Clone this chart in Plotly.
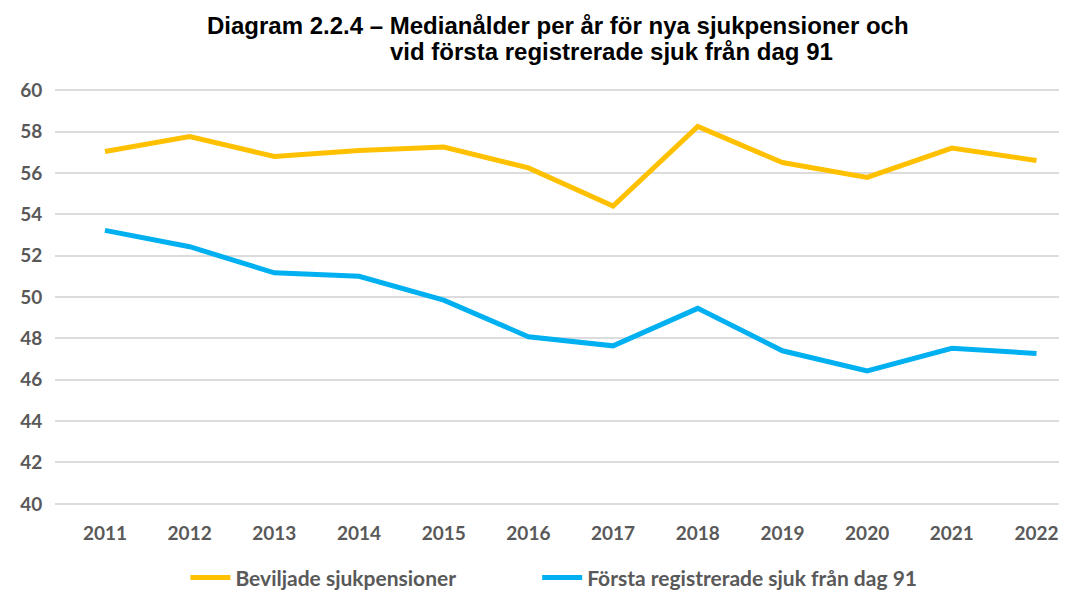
import plotly.graph_objects as go

years = ["2011", "2012", "2013", "2014", "2015", "2016", "2017", "2018", "2019", "2020", "2021", "2022"]
beviljade = [57.03, 57.76, 56.79, 57.08, 57.25, 56.24, 54.4, 58.24, 56.5, 55.78, 57.2, 56.6]
forsta = [53.22, 52.43, 51.17, 51.0, 49.85, 48.08, 47.64, 49.45, 47.4, 46.43, 47.52, 47.27]
series_names = ["Beviljade sjukpensioner", "Första registrerade sjuk från dag 91"]
title_lines = ["Diagram 2.2.4 – Medianålder per år för nya sjukpensioner och",
               "vid första registrerade sjuk från dag 91"]
y_ticks = [40, 42, 44, 46, 48, 50, 52, 54, 56, 58, 60]

legend_pad = "\u00a0" * 15  # spacing between the two legend entries

fig = go.Figure()
fig.add_trace(go.Scatter(x=list(range(len(years))), y=beviljade, mode="lines",
                         name=series_names[0] + legend_pad,
                         line=dict(color="#FFC000", width=5)))
fig.add_trace(go.Scatter(x=list(range(len(years))), y=forsta, mode="lines",
                         name=series_names[1], line=dict(color="#00B0F0", width=5)))

tick_font = dict(family="Lato", size=19, color="#595959", weight="bold")

fig.update_layout(
    width=1067, height=590,
    margin=dict(l=47, r=8, t=78, b=90),
    paper_bgcolor="white", plot_bgcolor="white",
    showlegend=True,
    legend=dict(orientation="h", x=0.493, xanchor="center", xref="paper",
                y=0.034, yanchor="middle", yref="container",
                font=dict(family="Lato", size=21, color="#595959", weight="bold"),
                itemwidth=40, traceorder="normal"),
    xaxis=dict(range=[-0.59, 11.36], tickmode="array",
               tickvals=list(range(len(years))), ticktext=years,
               showgrid=False, zeroline=False, showline=False,
               tickfont=tick_font, ticks="outside", ticklen=8, tickcolor="white"),
    yaxis=dict(range=[39.8, 60.2], tickmode="array", tickvals=y_ticks,
               showgrid=True, gridcolor="#DCDCDC", gridwidth=2,
               zeroline=False, showline=False, tickfont=tick_font,
               ticks="outside", ticklen=8, tickcolor="white"),
)

fig.add_annotation(text="<b>" + title_lines[0] + "</b>", xref="paper", yref="paper",
                   x=0.497, y=1.1445, xanchor="center", yanchor="middle", showarrow=False,
                   font=dict(family="Liberation Sans", size=24, color="black"))
fig.add_annotation(text="<b>" + title_lines[1] + "</b>", xref="paper", yref="paper",
                   x=0.550, y=1.0806, xanchor="center", yanchor="middle", showarrow=False,
                   font=dict(family="Liberation Sans", size=24, color="black"))

fig.write_html("out.html")
